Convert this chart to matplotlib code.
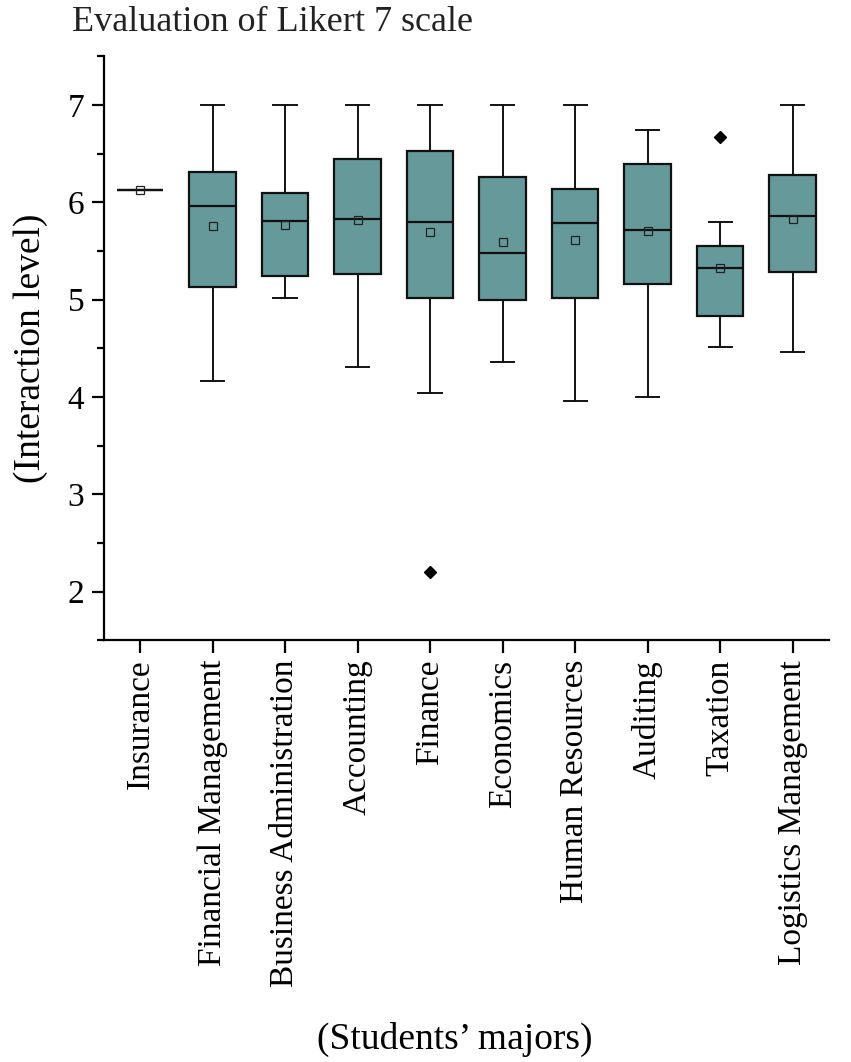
import numpy as np
import matplotlib
matplotlib.use('Agg')
import matplotlib.pyplot as plt
from matplotlib.ticker import MultipleLocator

plt.rcParams['font.family'] = ['Liberation Serif', 'DejaVu Serif']

# data
majors = ['Insurance', 'Financial Management', 'Business Administration',
          'Accounting', 'Finance', 'Economics', 'Human Resources',
          'Auditing', 'Taxation', 'Logistics Management']
whislo = [6.13, 4.16, 5.02, 4.31, 4.04, 4.36, 3.96, 4.00, 4.51, 4.46]
q1     = [6.13, 5.13, 5.24, 5.26, 5.02, 5.00, 5.02, 5.16, 4.83, 5.28]
med    = [6.13, 5.96, 5.81, 5.83, 5.80, 5.48, 5.79, 5.72, 5.33, 5.86]
q3     = [6.13, 6.31, 6.10, 6.45, 6.53, 6.26, 6.14, 6.39, 5.55, 6.28]
whishi = [6.13, 7.00, 7.00, 7.00, 7.00, 7.00, 7.00, 6.74, 5.80, 7.00]
means  = [6.13, 5.76, 5.77, 5.82, 5.69, 5.59, 5.61, 5.71, 5.33, 5.83]
fliers = [[], [], [], [], [2.20], [], [], [], [6.67], []]

box_color = '#669999'

stats = []
for i in range(len(majors)):
    stats.append(dict(label=majors[i], whislo=whislo[i], q1=q1[i], med=med[i],
                      q3=q3[i], whishi=whishi[i], mean=means[i], fliers=fliers[i]))

fig = plt.figure(figsize=(8.51, 10.62), dpi=100)
ax = fig.add_axes([0.122, 0.397, 0.852, 0.550])

ax.bxp(stats, positions=np.arange(1, 11), widths=0.64, patch_artist=True,
       showmeans=True, showfliers=True,
       boxprops=dict(facecolor=box_color, edgecolor='#111111', linewidth=1.6),
       medianprops=dict(color='#111111', linewidth=1.6),
       whiskerprops=dict(color='#111111', linewidth=1.4),
       capprops=dict(color='#111111', linewidth=1.4),
       capwidths=0.32,
       meanprops=dict(marker='s', markersize=6, markerfacecolor='none',
                      markeredgecolor='#222222', markeredgewidth=0.9),
       flierprops=dict(marker='D', markersize=6, markerfacecolor='black',
                       markeredgecolor='black'))

ax.set_xlim(0.5, 10.5)
ax.set_ylim(1.5, 7.5)
ax.yaxis.set_minor_locator(MultipleLocator(0.5))
ax.set_yticks([2, 3, 4, 5, 6, 7])
ax.set_xticks(np.arange(1, 11))
ax.set_xticklabels(majors, rotation=90)

for s in ['top', 'right']:
    ax.spines[s].set_visible(False)
for s in ['left', 'bottom']:
    ax.spines[s].set_linewidth(1.6)

ax.tick_params(axis='both', which='major', direction='out', length=9, width=1.6,
               labelsize=24, pad=5)
ax.tick_params(axis='y', which='minor', direction='out', length=5, width=1.6)
ax.tick_params(axis='x', which='minor', bottom=False)

ax.set_ylabel('(Interaction level)', fontsize=27, labelpad=14)
fig.text(0.085, 0.979, 'Evaluation of Likert 7 scale', fontsize=26,
         ha='left', va='center', color='#222222')
fig.text(0.534, 0.021, '(Students\u2019 majors)', fontsize=27,
         ha='center', va='center')

plt.savefig('out.png', dpi=100)
